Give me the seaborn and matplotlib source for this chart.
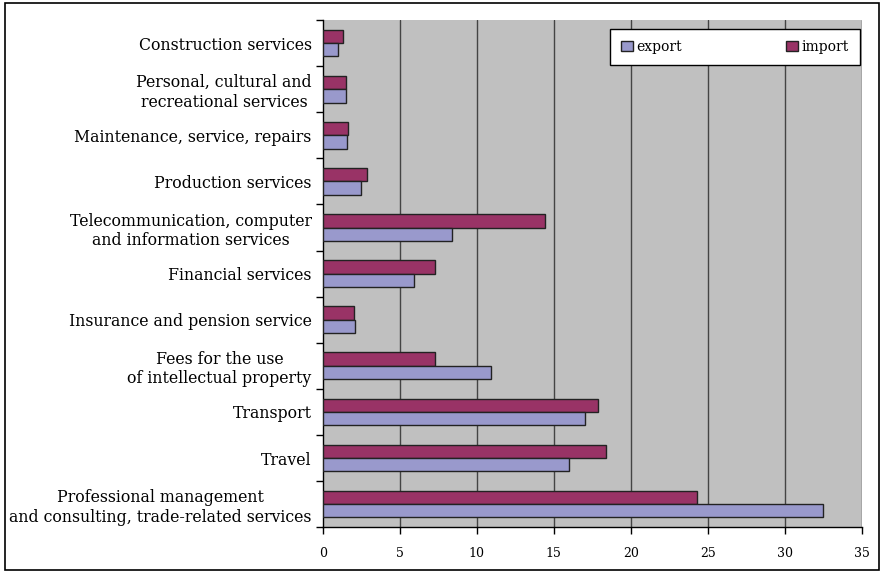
import pandas as pd
import matplotlib.pyplot as plt
import seaborn as sns
import numpy as np
from matplotlib.patches import Patch, Rectangle

categories = [
    'Construction services',
    'Personal, cultural and\nrecreational services',
    'Maintenance, service, repairs',
    'Production services',
    'Telecommunication, computer\nand information services',
    'Financial services',
    'Insurance and pension service',
    'Fees for the use\nof intellectual property',
    'Transport',
    'Travel',
    'Professional management\nand consulting, trade-related services',
]
export_vals = [1.0, 1.5, 1.6, 2.5, 8.4, 5.9, 2.1, 10.9, 17.0, 16.0, 32.5]
import_vals = [1.3, 1.5, 1.65, 2.9, 14.4, 7.3, 2.0, 7.3, 17.9, 18.4, 24.3]
xticks = [0, 5, 10, 15, 20, 25, 30, 35]

df = pd.concat([
    pd.DataFrame({'category': categories, 'value': import_vals, 'flow': 'import'}),
    pd.DataFrame({'category': categories, 'value': export_vals, 'flow': 'export'}),
], ignore_index=True)

colors = {'export': '#9999CC', 'import': '#993366'}

sns.set_style('white')
plt.rcParams['font.family'] = ['DejaVu Serif']
plt.rcParams['text.color'] = 'black'
plt.rcParams['xtick.color'] = 'black'
plt.rcParams['ytick.color'] = 'black'

fig, ax = plt.subplots(figsize=(8.82, 5.73), dpi=100)
plt.subplots_adjust(left=0.366, right=0.977, top=0.965, bottom=0.08)

ax.set_facecolor('#C0C0C0')
sns.barplot(data=df, y='category', x='value', hue='flow', hue_order=['import', 'export'],
            order=categories, palette=colors, saturation=1, width=0.58, gap=0.0,
            edgecolor='#222222', linewidth=1.0, ax=ax, legend=False, zorder=3)

ax.set_xlim(0, 35)
ax.set_ylim(len(categories) - 0.5, -0.5)
ax.set_xticks(xticks)
ax.set_xticklabels([str(t) for t in xticks], fontsize=9)
for t in xticks[1:]:
    ax.axvline(t, color='#444444', linewidth=1.0, zorder=1)

ax.set_yticks(np.arange(len(categories)))
ax.set_yticklabels(categories, fontsize=11.3, multialignment='center')
ax.set_yticks(np.arange(len(categories) + 1) - 0.5, minor=True)
ax.tick_params(axis='y', which='major', length=0, pad=8)
ax.tick_params(axis='y', which='minor', length=5, width=1, direction='out', left=True)
ax.tick_params(axis='x', which='major', length=5, width=1, direction='out', bottom=True, pad=9)

ax.set_xlabel('')
ax.set_ylabel('')
for s in ['top', 'right']:
    ax.spines[s].set_visible(False)
ax.spines['left'].set_color('black')
ax.spines['bottom'].set_color('black')
ax.spines['left'].set_linewidth(1)
ax.spines['bottom'].set_linewidth(1)

handles = [Patch(facecolor=colors['export'], edgecolor='#222222', label='export'),
           Patch(facecolor=colors['import'], edgecolor='#222222', label='import')]
leg = ax.legend(handles=handles, loc='upper right', bbox_to_anchor=(0.997, 0.983), ncol=2,
                fontsize=10, frameon=True, fancybox=False, edgecolor='black', framealpha=1,
                handlelength=0.8, handleheight=0.8, handletextpad=0.3, columnspacing=7.5,
                borderpad=0.8, borderaxespad=0)
leg.get_frame().set_linewidth(1)
leg.get_frame().set_facecolor('white')
leg.set_zorder(5)

fig.patches.append(Rectangle((0.006, 0.006), 0.991, 0.988, transform=fig.transFigure,
                             fill=False, edgecolor='black', linewidth=1.2))

plt.savefig('out.png', dpi=100)
plt.close()
